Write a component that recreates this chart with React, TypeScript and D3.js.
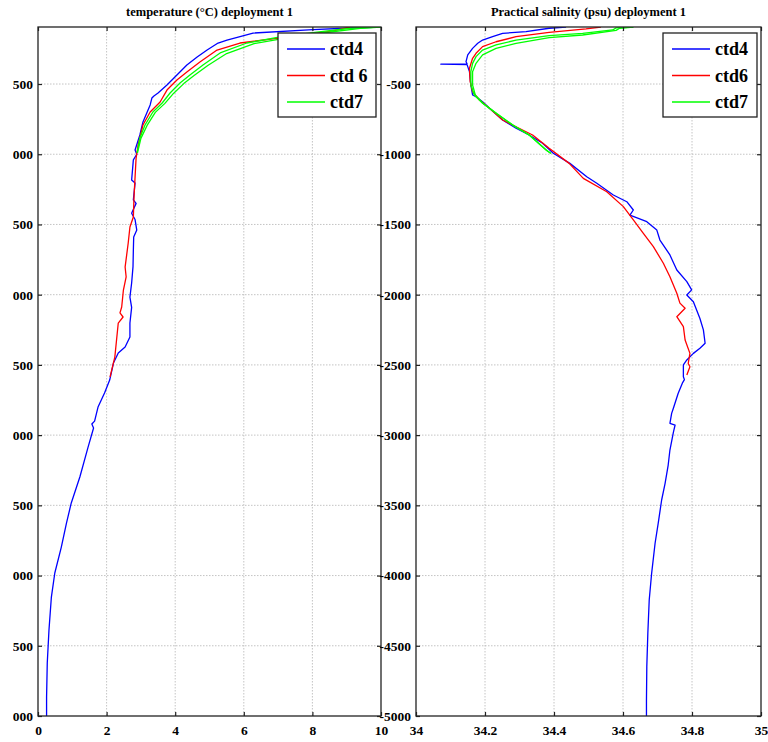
import React, { useEffect, useRef } from "react";
import * as d3 from "d3";

// ticks
const tempTicks = [0, 2, 4, 6, 8, 10];
const salTicks = [34, 34.2, 34.4, 34.6, 34.8, 35];
const depthTicks = [-500, -1000, -1500, -2000, -2500, -3000, -3500, -4000, -4500, -5000];

// temperature profiles: [temperature, depth]
const tempCtd4 = [
  [10.0, -94], [9.1, -101], [8.02, -112], [6.27, -137], [5.51, -187], [5.25, -208],
  [4.93, -258], [4.64, -308], [4.34, -365], [4.05, -436], [3.76, -507], [3.5, -564],
  [3.38, -585], [3.32, -600], [3.27, -649], [3.06, -770], [2.97, -863], [2.83, -970],
  [2.88, -1000], [2.78, -1040], [2.73, -1183], [2.83, -1205], [2.78, -1325], [2.86, -1350],
  [2.73, -1420], [2.83, -1465], [2.88, -1540], [2.79, -1590], [2.78, -1682], [2.77, -1800],
  [2.73, -1917], [2.68, -2017], [2.73, -2090], [2.68, -2202], [2.68, -2302], [2.54, -2373],
  [2.34, -2415], [2.2, -2487], [2.09, -2608], [1.94, -2700], [1.75, -2800], [1.65, -2900],
  [1.57, -2921], [1.62, -2949], [1.46, -3085], [1.22, -3298], [0.97, -3483], [0.83, -3626],
  [0.68, -3797], [0.49, -3982], [0.39, -4153], [0.32, -4388], [0.27, -4623], [0.25, -4865],
  [0.25, -5000],
];
const tempCtd6 = [
  [9.1, -94], [8.6, -122], [7.06, -172], [5.89, -208], [5.22, -258], [4.72, -343],
  [4.34, -414], [4.05, -471], [3.76, -543], [3.56, -628], [3.27, -699], [3.06, -792],
  [2.92, -934], [2.86, -1027], [2.83, -1162], [2.8, -1300], [2.78, -1447], [2.68, -1518],
  [2.63, -1632], [2.54, -1803], [2.57, -1874], [2.49, -1967], [2.44, -2088], [2.39, -2130],
  [2.48, -2159], [2.34, -2202], [2.29, -2323], [2.24, -2444], [2.15, -2536], [2.1, -2586],
];
const tempCtd7a = [
  [10.0, -94], [9.18, -101], [8.13, -130], [7.06, -165], [6.09, -208], [5.31, -279],
  [4.81, -365], [4.43, -436], [4.14, -493], [3.85, -564], [3.62, -635], [3.35, -699],
  [3.12, -792], [2.97, -884], [2.89, -991],
];
const tempCtd7b = [
  [10.0, -94], [9.4, -104], [8.35, -135], [7.3, -170], [6.3, -212], [5.5, -283],
  [4.95, -368], [4.55, -440], [4.25, -497], [3.95, -567], [3.7, -638], [3.42, -702],
  [3.18, -795], [3.0, -887], [2.9, -990],
];

// salinity profiles: [salinity, depth]
const salCtd4 = [
  [34.435, -94], [34.386, -103], [34.319, -127], [34.251, -139], [34.222, -163],
  [34.193, -187], [34.179, -210], [34.164, -246], [34.15, -293], [34.145, -341],
  [34.148, -356], [34.072, -359], [34.148, -362], [34.155, -412], [34.159, -507],
  [34.164, -578], [34.174, -590], [34.193, -626], [34.213, -673], [34.251, -756],
  [34.29, -815], [34.328, -863], [34.367, -922], [34.398, -993], [34.446, -1065],
  [34.495, -1160], [34.524, -1207], [34.572, -1290], [34.611, -1338], [34.63, -1397],
  [34.62, -1433], [34.669, -1480], [34.698, -1540], [34.707, -1611], [34.736, -1717],
  [34.756, -1824], [34.785, -1907], [34.799, -1966], [34.785, -2002], [34.804, -2050],
  [34.823, -2170], [34.833, -2251], [34.838, -2346], [34.823, -2382], [34.804, -2418],
  [34.785, -2465], [34.775, -2500], [34.775, -2584], [34.778, -2605], [34.772, -2630],
  [34.76, -2702], [34.746, -2809], [34.741, -2845], [34.736, -2916], [34.751, -2928],
  [34.746, -2980], [34.736, -3106], [34.731, -3213], [34.722, -3343], [34.712, -3462],
  [34.702, -3628], [34.693, -3770], [34.683, -3984], [34.676, -4174], [34.672, -4411],
  [34.669, -4649], [34.668, -4886], [34.668, -5000],
];
const salCtd6 = [
  [34.536, -94], [34.493, -108], [34.386, -132], [34.29, -163], [34.232, -199],
  [34.193, -234], [34.174, -281], [34.164, -317], [34.155, -388], [34.157, -483],
  [34.164, -554], [34.184, -614], [34.213, -673], [34.251, -756], [34.29, -804],
  [34.338, -863], [34.386, -958], [34.444, -1065], [34.485, -1172], [34.553, -1267],
  [34.601, -1373], [34.63, -1468], [34.659, -1563], [34.688, -1658], [34.717, -1776],
  [34.736, -1872], [34.756, -1990], [34.765, -2060], [34.78, -2097], [34.756, -2157],
  [34.775, -2228], [34.78, -2323], [34.794, -2418], [34.789, -2490], [34.794, -2513],
  [34.785, -2572],
];
const salCtd7a = [
  [34.63, -94], [34.58, -100], [34.57, -115], [34.483, -139], [34.386, -156],
  [34.29, -187], [34.232, -222], [34.193, -258], [34.174, -305], [34.164, -353],
  [34.159, -412], [34.159, -507], [34.169, -578], [34.193, -637], [34.232, -708],
  [34.28, -792], [34.328, -863], [34.377, -970], [34.39, -993],
];
const salCtd7b = [
  [34.63, -94], [34.59, -103], [34.58, -118], [34.483, -151], [34.386, -170],
  [34.29, -210], [34.232, -246], [34.193, -293], [34.174, -353], [34.164, -412],
  [34.164, -507], [34.172, -580], [34.196, -640], [34.235, -712], [34.283, -796],
  [34.33, -866], [34.38, -975], [34.392, -995],
];

const panels = [
  {
    title: "temperature (°C) deployment 1",
    x0: 38, x1: 381,
    domain: [0, 10], ticks: tempTicks,
    series: [
      { data: tempCtd4, color: "#0000ff" },
      { data: tempCtd6, color: "#ff0000" },
      { data: tempCtd7a, color: "#00ff00" },
      { data: tempCtd7b, color: "#00ff00" },
    ],
    legend: ["ctd4", "ctd 6", "ctd7"],
    legendX: 278, legendW: 98,
  },
  {
    title: "Practical salinity (psu) deployment 1",
    x0: 416, x1: 761,
    domain: [34, 35], ticks: salTicks,
    series: [
      { data: salCtd4, color: "#0000ff" },
      { data: salCtd6, color: "#ff0000" },
      { data: salCtd7a, color: "#00ff00" },
      { data: salCtd7b, color: "#00ff00" },
    ],
    legend: ["ctd4", "ctd6", "ctd7"],
    legendX: 663, legendW: 94,
  },
];
const legendColors = ["#0000ff", "#ff0000", "#00ff00"];

export default function App() {
  const ref = useRef<SVGSVGElement>(null);

  useEffect(() => {
    document.body.style.margin = "0";
    const svg = d3.select(ref.current);
    svg.selectAll("*").remove();
    const top = 27, bottom = 716;
    const font = "'Liberation Serif', 'Times New Roman', serif";

    const y = d3.scaleLinear().domain([-5000, -94]).range([bottom, top]);

    const defs = svg.append("defs");
    // the left edge of the figure is cut off, as in the source image
    defs.append("clipPath").attr("id", "labelclip")
      .append("rect").attr("x", 13).attr("y", 0).attr("width", 755).attr("height", 742);

    panels.forEach((p, pi) => {
      const x = d3.scaleLinear().domain(p.domain).range([p.x0, p.x1]);
      const g = svg.append("g");

      defs.append("clipPath").attr("id", "plot" + pi)
        .append("rect").attr("x", p.x0).attr("y", top)
        .attr("width", p.x1 - p.x0).attr("height", bottom - top);

      // grid
      g.selectAll(".vg").data(p.ticks.slice(1, -1)).enter().append("line")
        .attr("x1", (d) => x(d)).attr("x2", (d) => x(d))
        .attr("y1", top).attr("y2", bottom)
        .attr("stroke", "#b5b5b5").attr("stroke-width", 0.8).attr("stroke-dasharray", "1.5,1.5");
      g.selectAll(".hg").data(depthTicks.slice(0, -1)).enter().append("line")
        .attr("x1", p.x0).attr("x2", p.x1)
        .attr("y1", (d) => y(d)).attr("y2", (d) => y(d))
        .attr("stroke", "#b5b5b5").attr("stroke-width", 0.8).attr("stroke-dasharray", "1.5,1.5");

      // profiles
      const line = d3.line<number[]>().x((d) => x(d[0])).y((d) => y(d[1]));
      const lg = g.append("g").attr("clip-path", `url(#plot${pi})`);
      p.series.forEach((s) => {
        lg.append("path").datum(s.data).attr("fill", "none")
          .attr("stroke", s.color).attr("stroke-width", 1.3)
          .attr("stroke-linejoin", "round").attr("d", line);
      });

      // axes
      g.append("g").attr("transform", `translate(0,${bottom})`)
        .call(d3.axisBottom(x).tickValues(p.ticks).tickSize(-4).tickPadding(9)
          .tickFormat((d) => String(d)));
      const leftWrap = g.append("g");
      if (pi === 0) leftWrap.attr("clip-path", "url(#labelclip)");
      leftWrap.append("g").attr("transform", `translate(${p.x0},0)`)
        .call(d3.axisLeft(y).tickValues(depthTicks).tickSize(-4).tickPadding(5)
          .tickFormat((d) => String(d)));
      g.append("g").attr("transform", `translate(${p.x1},0)`)
        .call(d3.axisRight(y).tickValues(depthTicks).tickSize(-4).tickFormat(() => ""));
      g.append("g").attr("transform", `translate(0,${top})`)
        .call(d3.axisTop(x).tickValues(p.ticks).tickSize(-4).tickFormat(() => ""));
      g.selectAll(".domain").remove();
      g.selectAll(".tick line").attr("stroke", "#222").attr("stroke-width", 1.2);
      g.selectAll(".tick text").attr("font-family", font).attr("font-weight", "bold")
        .attr("font-size", 13.5).attr("fill", "#000");

      g.append("rect").attr("x", p.x0).attr("y", top)
        .attr("width", p.x1 - p.x0).attr("height", bottom - top)
        .attr("fill", "none").attr("stroke", "#222").attr("stroke-width", 1.3);

      // title
      g.append("text").attr("x", (p.x0 + p.x1) / 2).attr("y", 16)
        .attr("text-anchor", "middle").attr("font-family", font)
        .attr("font-weight", "bold").attr("font-size", 12.5).text(p.title);

      // legend
      const leg = g.append("g");
      leg.append("rect").attr("x", p.legendX).attr("y", 33)
        .attr("width", p.legendW).attr("height", 84)
        .attr("fill", "#fff").attr("stroke", "#222").attr("stroke-width", 1.3);
      p.legend.forEach((name, i) => {
        const ly = 49 + i * 26.5;
        leg.append("line").attr("x1", p.legendX + 9).attr("x2", p.legendX + 47)
          .attr("y1", ly).attr("y2", ly)
          .attr("stroke", legendColors[i]).attr("stroke-width", 1.5);
        leg.append("text").attr("x", p.legendX + 52).attr("y", ly + 6)
          .attr("font-family", font).attr("font-weight", "bold")
          .attr("font-size", 18).text(name);
      });
    });
  }, []);

  return <svg ref={ref} width={768} height={742} style={{ display: "block", background: "#fff" }} />;
}
